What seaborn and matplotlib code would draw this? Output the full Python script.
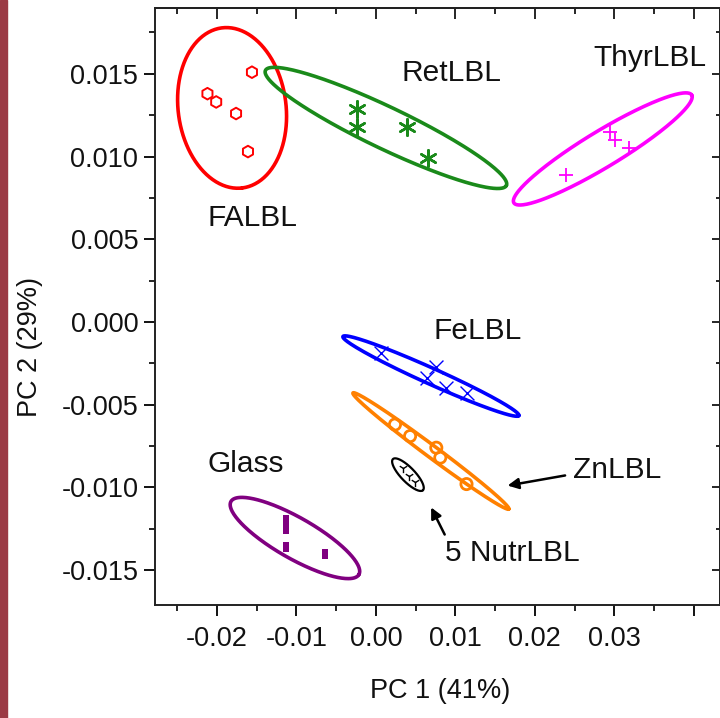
import numpy as np
import pandas as pd
import matplotlib
matplotlib.use("Agg")
import matplotlib.pyplot as plt
import seaborn as sns
from matplotlib.patches import Rectangle
from matplotlib.ticker import MultipleLocator, FuncFormatter

# PCA scores per coating group
fa_x = [-0.0156, -0.0212, -0.0201, -0.0176, -0.0161]
fa_y = [0.0151, 0.0138, 0.0133, 0.0126, 0.0103]
ret_x = [-0.0024, -0.0024, 0.0039, 0.0066]
ret_y = [0.0129, 0.0118, 0.0118, 0.0099]
thyr_x = [0.0294, 0.0301, 0.0319, 0.0239]
thyr_y = [0.0115, 0.0110, 0.0105, 0.0089]
fe_x = [0.0007, 0.0064, 0.0076, 0.0088, 0.0114]
fe_y = [-0.0019, -0.0034, -0.0027, -0.0040, -0.0043]
zn_x = [0.0024, 0.0043, 0.0076, 0.0081, 0.0114]
zn_y = [-0.0062, -0.0069, -0.0076, -0.0082, -0.0098]
nutr_x = [0.0034, 0.0042, 0.0049]
nutr_y = [-0.0088, -0.0093, -0.0097]
glass_x = [-0.0113, -0.0113, -0.0113, -0.0064]
glass_y = [-0.0120, -0.0125, -0.0136, -0.0140]

# confidence ellipses: centre + two conjugate semi-axis vectors (data units)
groups = ["FALBL", "RetLBL", "ThyrLBL", "FeLBL", "ZnLBL", "5 NutrLBL", "Glass"]
ell_cx = [-0.0181, 0.00126, 0.02855, 0.00692, 0.00692, 0.00403, -0.01019]
ell_cy = [0.01294, 0.01173, 0.01046, -0.00327, -0.0078, -0.00923, -0.01306]
ell_ux = [0.00126, 0.01516, 0.01119, 0.01107, 0.00981, 0.00189, 0.00805]
ell_uy = [-0.00484, -0.00348, 0.00326, -0.00239, -0.00351, -0.00094, -0.00221]
ell_vx = [0.00674, -0.00113, 0.00117, -0.00041, -0.00045, -0.00063, -0.00127]
ell_vy = [0.00039, -0.00114, -0.00093, -0.00044, -0.00029, -0.00030, -0.00107]
colors = ["#ff0000", "#1a8a1a", "#ff00ff", "#0000ff", "#ff8000", "#000000", "#800080"]

# group labels
lab_x = [-0.0156, 0.00956, 0.03447, 0.01283, 0.03031, 0.01711, -0.01635]
lab_y = [0.00629, 0.01505, 0.01596, -0.00054, -0.00895, -0.01397, -0.00859]

sns.set_style("ticks")
plt.rcParams["font.family"] = ["Liberation Sans", "DejaVu Sans"]
plt.rcParams["axes.unicode_minus"] = False

fig = plt.figure(figsize=(7.2, 7.18), dpi=100)
ax = fig.add_axes([155 / 720, 1 - 605 / 718, 565 / 720, 597 / 718])

# ellipses
t = np.linspace(0, 2 * np.pi, 300)
for i in range(len(groups)):
    ex = ell_cx[i] + ell_ux[i] * np.cos(t) + ell_vx[i] * np.sin(t)
    ey = ell_cy[i] + ell_uy[i] * np.cos(t) + ell_vy[i] * np.sin(t)
    lw = 1.6 if groups[i] == "5 NutrLBL" else 2.6
    ax.plot(ex, ey, color=colors[i], lw=lw, zorder=2)

# points
sns.scatterplot(x=fa_x, y=fa_y, marker="h", s=70, facecolor="none",
                edgecolor=colors[0], linewidth=1.4, ax=ax, zorder=3)
sns.scatterplot(x=ret_x, y=ret_y, marker=(6, 2, 0), s=140, color=colors[1],
                linewidth=1.8, ax=ax, zorder=3)
sns.scatterplot(x=thyr_x, y=thyr_y, marker="+", s=100, color=colors[2],
                linewidth=1.3, ax=ax, zorder=3)
sns.scatterplot(x=fe_x, y=fe_y, marker="x", s=100, color=colors[3],
                linewidth=1.0, ax=ax, zorder=3)
sns.scatterplot(x=zn_x, y=zn_y, marker="o", s=65, facecolor="none",
                edgecolor=colors[4], linewidth=2.0, ax=ax, zorder=3)
sns.scatterplot(x=nutr_x, y=nutr_y, marker="1", s=45, color=colors[5],
                linewidth=1.0, ax=ax, zorder=3)
bar = [(-0.3, -0.5), (0.3, -0.5), (0.3, 0.5), (-0.3, 0.5)]
sns.scatterplot(x=glass_x, y=glass_y, marker=bar, s=60, color=colors[6],
                edgecolor=colors[6], linewidth=0, ax=ax, zorder=3)

for i in range(len(groups)):
    ax.text(lab_x[i], lab_y[i], groups[i], fontsize=21.5, ha="center",
            va="center", color="#111111")

# arrows to the small groups
arr = dict(arrowstyle="-|>", color="black", lw=1.8, mutation_scale=16)
ax.annotate("", xy=(0.01623, -0.00992), xytext=(0.02415, -0.00925), arrowprops=arr)
ax.annotate("", xy=(0.00679, -0.01106), xytext=(0.00881, -0.0130), arrowprops=arr)

ax.set_xlim(-0.0278, 0.0433)
ax.set_ylim(-0.01711, 0.01898)

ax.xaxis.set_major_locator(MultipleLocator(0.01))
ax.xaxis.set_minor_locator(MultipleLocator(0.005))
ax.yaxis.set_major_locator(MultipleLocator(0.005))
ax.yaxis.set_minor_locator(MultipleLocator(0.0025))
ax.xaxis.set_major_formatter(FuncFormatter(lambda v, p: "" if v > 0.035 else "%.2f" % v))
ax.yaxis.set_major_formatter(FuncFormatter(lambda v, p: "%.3f" % v))

ax.tick_params(axis="both", which="major", direction="out", length=8, width=1.4,
               labelsize=19.5, colors="#111111")
ax.tick_params(axis="both", which="minor", direction="out", length=4, width=1.4)
ax.tick_params(axis="x", which="major", pad=7)
ax.tick_params(axis="y", which="major", pad=4)

# inward ticks on top and right
top = ax.secondary_xaxis("top")
top.xaxis.set_major_locator(MultipleLocator(0.01))
top.xaxis.set_minor_locator(MultipleLocator(0.005))
top.tick_params(which="major", direction="in", length=8, width=1.4, labeltop=False)
top.tick_params(which="minor", direction="in", length=4, width=1.4)
right = ax.secondary_yaxis("right")
right.yaxis.set_major_locator(MultipleLocator(0.005))
right.yaxis.set_minor_locator(MultipleLocator(0.0025))
right.tick_params(which="major", direction="in", length=6, width=1.4, labelright=False)
right.tick_params(which="minor", direction="in", length=3, width=1.4)

for sp in ax.spines.values():
    sp.set_linewidth(1.4)
    sp.set_color("#222222")
for sp in list(top.spines.values()) + list(right.spines.values()):
    sp.set_linewidth(1.4)
    sp.set_color("#222222")

ax.set_xlabel("PC 1 (41%)", fontsize=19.5, color="#111111")
ax.set_ylabel("PC 2 (29%)", fontsize=19.5, color="#111111")
ax.xaxis.set_label_coords(0.504, -0.122)
ax.yaxis.set_label_coords(-0.199, 0.432)

# maroon strip at the left edge
fig.patches.append(Rectangle((0, 0), 7 / 720, 1, transform=fig.transFigure,
                             color="#9b3a45", zorder=0))

fig.savefig("out.png", dpi=100)
